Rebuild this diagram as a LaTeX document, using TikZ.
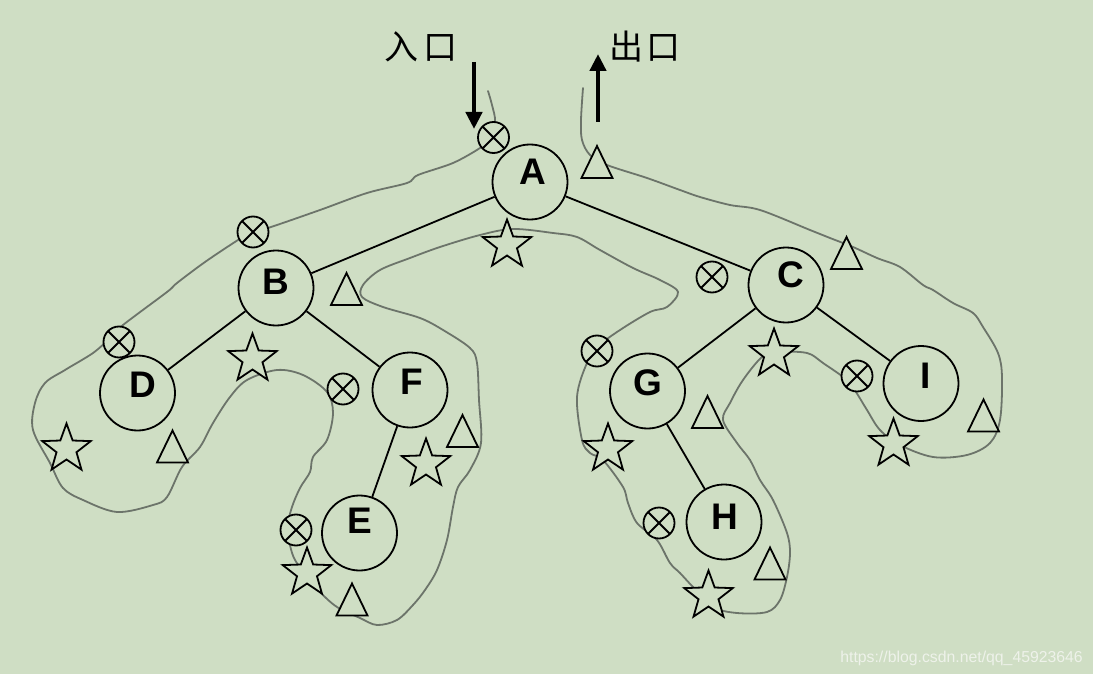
\documentclass[tikz,border=0pt]{standalone}
\usepackage{fontspec}
\setmainfont{Liberation Sans}
\newfontfamily\cjk{Noto Sans CJK SC}
\usetikzlibrary{arrows.meta,calc}
\definecolor{bg}{RGB}{207,222,196}
\definecolor{trail}{RGB}{108,116,106}
\definecolor{wm}{RGB}{238,242,234}
\tikzset{
  tnode/.style={circle, draw=black, line width=1.8pt, minimum size=75pt, inner sep=0pt, fill=bg},
  lbl/.style={font=\fontsize{37}{37}\selectfont\bfseries, inner sep=0pt},
  tedge/.style={line width=1.8pt, black},
  symline/.style={line width=1.8pt, black, line join=miter},
  trailline/.style={line width=1.8pt, trail, line cap=round, line join=round},
  bigarrow/.style={line width=4.5pt, -{Triangle[width=16pt,length=17pt]}},
  cjklbl/.style={font=\cjk\fontsize{34}{34}\selectfont, inner sep=0pt},
  otimes/.pic={\draw[symline, fill=bg] (0,0) circle[radius=15.5];
               \draw[symline] (-11,-11) -- (11,11) (-11,11) -- (11,-11);},
  tri/.pic={\draw[symline, fill=bg] (-15.5,16) -- (15.5,16) -- (0,-16) -- cycle;},
  starsym/.pic={\draw[symline, fill=bg] (-90:25.5)
     \foreach \a in {0,72,144,216} { -- ({-54+\a}:10.5) -- ({-18+\a}:25.5) }
     -- ({234}:10.5) -- cycle;}
}
\begin{document}
\begin{tikzpicture}[x=1pt, y=-1pt]
\path[use as bounding box, fill=bg] (0,0) rectangle (1093,674);

% traversal contour
\draw[trailline] plot[smooth, tension=0.55] coordinates {
 (488,91) (492,105) (495,122) (488,140) (480,148) (453,163) (418,175) (407,183) (367,193)
 (320,210) (268,228) (252,232) (238,240) (205,262) (177,283) (167,292) (123,325)
 (110,338) (93,353) (65,370) (45,383) (35,403) (33,430) (50,463) (63,488) (83,500)
 (117,512) (153,505) (167,497) (182,467) (200,447) (213,423) (230,397) (247,380)
 (277,370) (303,375) (327,392) (333,413) (327,440) (313,457) (310,472) (300,488)
 (292,507) (288,525) (290,545) (295,560) (306,575) (320,592) (337,607) (360,618)
 (377,625) (397,620) (413,605) (425,590) (437,570) (447,540) (453,507) (458,487)
 (470,470) (481,443) (479,400) (477,363) (470,348) (443,330) (420,318) (383,307)
 (362,297) (363,285) (380,270) (410,258) (440,247) (480,235) (513,229) (553,233)
 (577,237) (600,250) (633,268) (660,280) (678,292) (667,307) (650,312) (620,330)
 (600,345) (587,363) (577,397) (582,440) (590,453) (603,460) (623,487) (628,503)
 (637,523) (657,540) (670,563) (680,573) (693,587) (713,607) (737,613) (767,612)
 (780,600) (787,577) (790,553) (787,533) (773,500) (760,480) (750,460) (737,443)
 (723,420) (730,403) (743,380) (762,357) (777,352) (807,353) (823,363) (847,380)
 (856,392) (867,410) (880,430) (900,445) (933,457) (967,455) (990,443) (1000,420)
 (1002,377) (998,353) (983,327) (973,313) (953,303) (933,290) (923,285) (900,267)
 (877,258) (853,247) (830,238) (810,230) (760,210) (730,205) (700,197) (680,190)
 (647,178) (607,165) (590,155) (582,140) (581,120) (583,88)};

% tree nodes
\node[tnode, label={[lbl, xshift=3pt, yshift=10pt]center:A}] (A) at (530,182) {};
\node[tnode, label={[lbl, xshift=0pt, yshift=6pt]center:B}] (B) at (276,288) {};
\node[tnode, label={[lbl, xshift=5pt, yshift=10pt]center:C}] (C) at (786,285) {};
\node[tnode, label={[lbl, xshift=5pt, yshift=8pt]center:D}] (D) at (137.5,393) {};
\node[tnode, label={[lbl, xshift=0pt, yshift=12pt]center:E}] (E) at (359.5,533) {};
\node[tnode, label={[lbl, xshift=2pt, yshift=8pt]center:F}] (F) at (410,390) {};
\node[tnode, label={[lbl, xshift=0pt, yshift=8pt]center:G}] (G) at (647.5,391) {};
\node[tnode, label={[lbl, xshift=1pt, yshift=5pt]center:H}] (H) at (724,522) {};
\node[tnode, label={[lbl, xshift=5pt, yshift=8pt]center:I}] (I) at (921,383.5) {};

\draw[tedge] (A) -- (B);
\draw[tedge] (A) -- (C);
\draw[tedge] (B) -- (D);
\draw[tedge] (B) -- (F);
\draw[tedge] (F) -- (E);
\draw[tedge] (C) -- (G);
\draw[tedge] (C) -- (I);
\draw[tedge] (G) -- (H);

% visit markers: first visit
\pic at (493.5,137.5) {otimes};
\pic at (253,232) {otimes};
\pic at (119,342) {otimes};
\pic at (343,389) {otimes};
\pic at (296,530) {otimes};
\pic at (712,277) {otimes};
\pic at (597,351) {otimes};
\pic at (857,376) {otimes};
\pic at (659,523) {otimes};

% second visit
\pic at (507,245) {starsym};
\pic at (252.5,359) {starsym};
\pic at (66.5,449) {starsym};
\pic at (426,464) {starsym};
\pic at (307,573) {starsym};
\pic at (774,354) {starsym};
\pic at (608,449) {starsym};
\pic at (893.5,444) {starsym};
\pic at (708.5,596) {starsym};

% third visit
\pic at (597,162) {tri};
\pic at (346.5,289) {tri};
\pic at (172.5,446.5) {tri};
\pic at (462.5,431) {tri};
\pic at (352,599.5) {tri};
\pic at (846.5,253) {tri};
\pic at (707.5,412) {tri};
\pic at (983.5,415.5) {tri};
\pic at (770,563.5) {tri};

% entry / exit
\coordinate (inS) at (474,62);
\coordinate (inE) at (474,129);
\coordinate (outS) at (598,122);
\coordinate (outE) at (598,54);
\draw[bigarrow] (inS) -- (inE);
\draw[bigarrow] (outS) -- (outE);
\node[cjklbl] (entry) at (421,47) {入\hspace{5pt}口};
\node[cjklbl] (exit) at (645,47) {出\hspace{4pt}口};

\node[anchor=base east, font=\fontsize{15.8}{16}\selectfont, text=wm, inner sep=0pt] (wmk) at (1083,662) {https://blog.csdn.net/qq\_45923646};
\end{tikzpicture}
\end{document}
